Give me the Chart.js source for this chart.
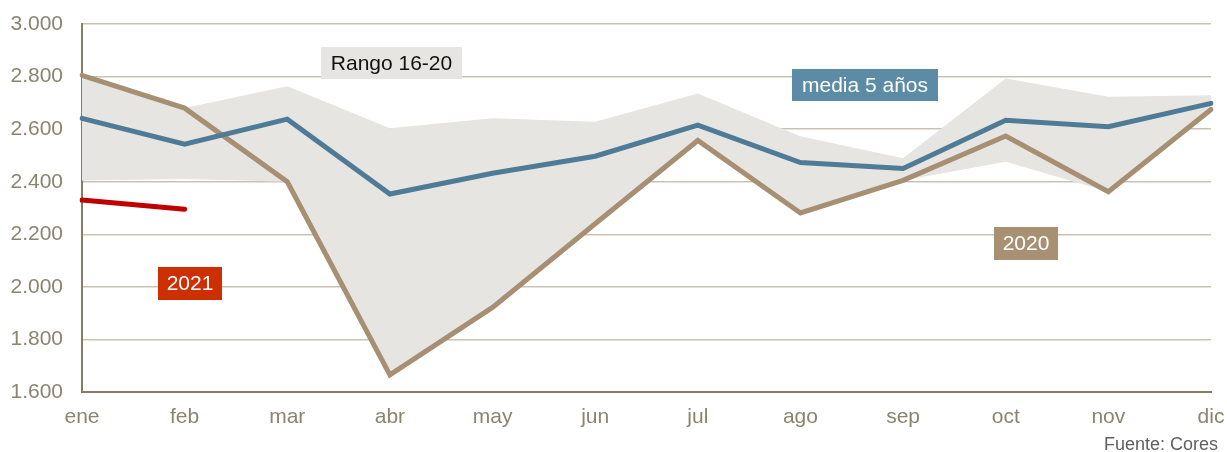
<!DOCTYPE html>
<html>
<head>
<meta charset="utf-8">
<script src="https://cdn.jsdelivr.net/npm/chart.js@4/dist/chart.umd.min.js"></script>
<style>
  html, body { margin: 0; padding: 0; background: #fff; }
  #wrap { width: 1227px; height: 452px; position: relative; }
</style>
</head>
<body>
<div id="wrap"><canvas id="chart" width="1227" height="452"></canvas></div>
<script>
// datos
const months = ["ene", "feb", "mar", "abr", "may", "jun", "jul", "ago", "sep", "oct", "nov", "dic"];
const rangeLow  = [2405, 2410, 2400, 1665, 1920, 2240, 2550, 2280, 2405, 2476, 2362, 2675];
const rangeHigh = [2805, 2680, 2763, 2603, 2641, 2628, 2736, 2573, 2489, 2793, 2723, 2729];
const media5 = [2641, 2543, 2638, 2353, 2432, 2497, 2615, 2473, 2450, 2634, 2609, 2698];
const y2020  = [2805, 2680, 2400, 1665, 1922, 2240, 2557, 2281, 2405, 2574, 2362, 2675];
const y2021  = [2330, 2295, null, null, null, null, null, null, null, null, null, null];
const yTicks = [1600, 1800, 2000, 2200, 2400, 2600, 2800, 3000];

const FONT = "Arial, 'Liberation Sans', sans-serif";
const AXIS = "#857b67";
const TICK = "#8b8471";

// cajas de texto sobre el grafico
const boxes = [
  { text: "Rango 16-20", x: 321, y: 47, w: 141, h: 32, bg: "#e6e5e1", fg: "#111" },
  { text: "media 5 años", x: 792, y: 69, w: 146, h: 32, bg: "#5b8ba5", fg: "#fff" },
  { text: "2020", x: 994, y: 227, w: 64, h: 33, bg: "#a89173", fg: "#fff" },
  { text: "2021", x: 158, y: 267, w: 64, h: 33, bg: "#cc2f00", fg: "#fff" }
];

const labelsPlugin = {
  id: "labels",
  afterDraw(chart) {
    const ctx = chart.ctx;
    ctx.save();
    ctx.font = "21px " + FONT;
    ctx.textAlign = "center";
    ctx.textBaseline = "middle";
    boxes.forEach(b => {
      ctx.fillStyle = b.bg;
      ctx.fillRect(b.x, b.y, b.w, b.h);
      ctx.fillStyle = b.fg;
      ctx.fillText(b.text, b.x + b.w / 2, b.y + b.h / 2 + 1);
    });
    // fuente
    ctx.font = "18px " + FONT;
    ctx.textAlign = "right";
    ctx.textBaseline = "alphabetic";
    ctx.fillStyle = "#5f5f5f";
    ctx.fillText("Fuente: Cores", 1218, 450);
    ctx.restore();
  }
};

const line = (data, color, width) => ({
  data: data,
  borderColor: color,
  borderWidth: width,
  pointRadius: 0,
  tension: 0,
  fill: false,
  spanGaps: false,
  borderCapStyle: "round",
  borderJoinStyle: "miter"
});

new Chart(document.getElementById("chart"), {
  type: "line",
  data: {
    labels: months,
    datasets: [
      Object.assign(line(y2021, "#c00000", 5), { order: 0 }),
      Object.assign(line(media5, "#507b97", 5), { order: 1 }),
      Object.assign(line(y2020, "#a68f73", 5), { order: 2 }),
      { data: rangeLow, borderWidth: 0, pointRadius: 0, fill: false, order: 4 },
      { data: rangeHigh, borderWidth: 0, pointRadius: 0, fill: "-1", backgroundColor: "#e6e5e1", order: 3 }
    ]
  },
  options: {
    responsive: false,
    animation: false,
    layout: { padding: { top: 24, right: 16, left: 0, bottom: 0 } },
    plugins: { legend: { display: false }, tooltip: { enabled: false } },
    scales: {
      x: {
        offset: false,
        grid: { display: false, drawTicks: false },
        border: { color: AXIS, width: 2 },
        ticks: { color: TICK, font: { size: 21, family: FONT }, padding: 13, maxRotation: 0, autoSkip: false },
        afterFit: s => { s.height = 60; s.paddingLeft = 0; s.paddingRight = 0; }
      },
      y: {
        min: 1600,
        max: 3000,
        afterBuildTicks: s => { s.ticks = yTicks.map(v => ({ value: v })); },
        grid: { color: "#c9c2b5", lineWidth: 1.5, drawTicks: false },
        border: { color: AXIS, width: 2 },
        ticks: {
          color: TICK,
          font: { size: 21, family: FONT },
          padding: 19,
          callback: v => v.toLocaleString("de-DE", { minimumFractionDigits: 0 }).replace(",", ".")
        },
        afterFit: s => { s.width = 82; s.paddingTop = 0; s.paddingBottom = 0; }
      }
    }
  },
  plugins: [labelsPlugin]
});
</script>
</body>
</html>
